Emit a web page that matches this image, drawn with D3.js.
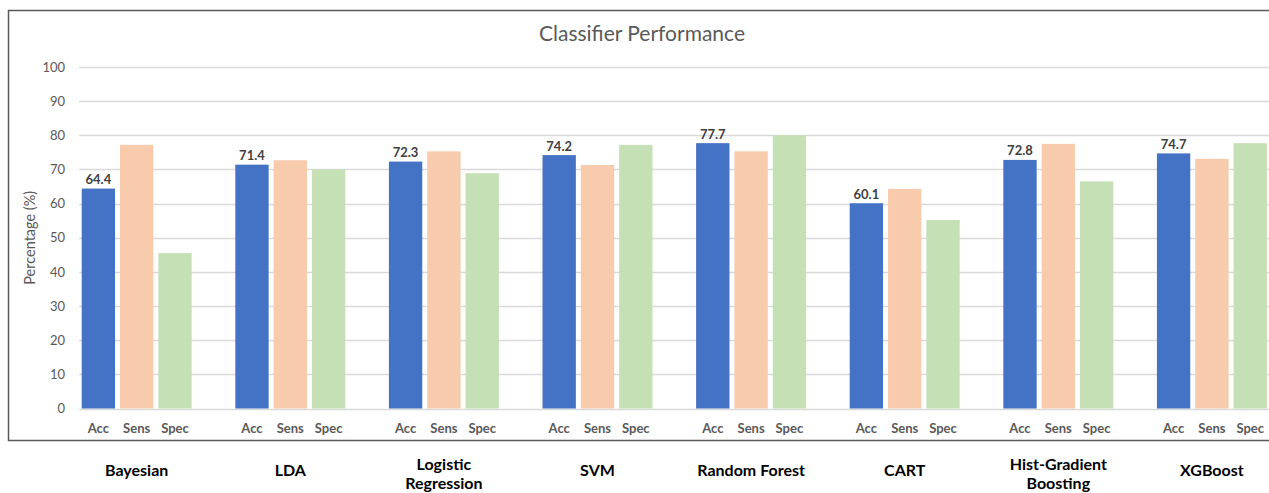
<!DOCTYPE html>
<html>
<head>
<meta charset="utf-8">
<script src="https://cdn.jsdelivr.net/npm/d3@7"></script>
<style>
  html, body { margin: 0; padding: 0; background: #fff; }
  svg { display: block; }
  text { font-family: Lato, "Open Sans", sans-serif; }
</style>
</head>
<body>
<svg id="chart" width="1269" height="493"></svg>
<script>
// Classifier metrics (%)
const classifiers = ["Bayesian", "LDA", "Logistic Regression", "SVM", "Random Forest", "CART", "Hist-Gradient Boosting", "XGBoost"];
const classifierLines = [["Bayesian"], ["LDA"], ["Logistic", "Regression"], ["SVM"], ["Random Forest"], ["CART"], ["Hist-Gradient", "Boosting"], ["XGBoost"]];
const metrics = ["Acc", "Sens", "Spec"];
const accuracy    = [64.4, 71.4, 72.3, 74.2, 77.7, 60.1, 72.8, 74.7];
const sensitivity = [77.2, 72.7, 75.3, 71.3, 75.3, 64.3, 77.5, 73.1];
const specificity = [45.5, 70.0, 68.9, 77.2, 80.0, 55.2, 66.5, 77.7];
const yTicks = [0, 10, 20, 30, 40, 50, 60, 70, 80, 90, 100];
const metricColors = ["#4472C4", "#F8CBAD", "#C5E0B4"];

const series = [accuracy, sensitivity, specificity];
const rows = classifiers.map((c, i) => ({
  name: c,
  lines: classifierLines[i],
  values: metrics.map((m, j) => ({ metric: m, value: series[j][i] }))
}));

const svg = d3.select("#chart");

// chart frame (open on the right)
svg.append("path")
  .attr("d", "M1269,10.5 H8.5 V440.5 H1269")
  .attr("fill", "none")
  .attr("stroke", "#595959")
  .attr("stroke-width", 1.5);

const plotLeft = 79, plotRight = 1269;
const y = d3.scaleLinear().domain([0, 100]).range([408.5, 67]);

const x0 = d3.scaleBand()
  .domain(classifiers)
  .range([81.7, 1266.9])
  .paddingInner(0.284)
  .paddingOuter(0)
  .align(0);

const x1 = d3.scaleBand()
  .domain(metrics)
  .range([0, x0.bandwidth()])
  .paddingInner(0.13)
  .paddingOuter(0);

const color = d3.scaleOrdinal().domain(metrics).range(metricColors);

// title
svg.append("text")
  .attr("x", 642)
  .attr("y", 41)
  .attr("text-anchor", "middle")
  .attr("fill", "#595959")
  .style("font-size", "21px")
  .text("Classifier Performance");

// gridlines + y ticks
const yAxis = d3.axisLeft(y).tickValues(yTicks).tickSize(0).tickPadding(14);
const gy = svg.append("g").attr("transform", `translate(${plotLeft},0)`).call(yAxis);
gy.select(".domain").remove();
gy.selectAll(".tick text").attr("fill", "#595959").style("font-size", "13px");

svg.append("g").selectAll("line")
  .data(yTicks)
  .join("line")
  .attr("x1", plotLeft).attr("x2", plotRight)
  .attr("y1", d => Math.round(y(d)) + 0.5).attr("y2", d => Math.round(y(d)) + 0.5)
  .attr("stroke", "#d9d9d9")
  .attr("stroke-width", 1.5);

// y axis title
svg.append("text")
  .attr("transform", `translate(35,${(y(0) + y(100)) / 2}) rotate(-90)`)
  .attr("text-anchor", "middle")
  .attr("fill", "#595959")
  .style("font-size", "14.5px")
  .text("Percentage (%)");

// bars
const groups = svg.append("g").selectAll("g")
  .data(rows)
  .join("g")
  .attr("transform", d => `translate(${x0(d.name)},0)`);

groups.selectAll("rect")
  .data(d => d.values)
  .join("rect")
  .attr("x", d => x1(d.metric))
  .attr("y", d => y(d.value))
  .attr("width", x1.bandwidth())
  .attr("height", d => y(0) - y(d.value))
  .attr("fill", d => color(d.metric));

// accuracy value labels
groups.append("text")
  .attr("x", x1("Acc") + x1.bandwidth() / 2)
  .attr("y", d => y(d.values[0].value) - 4.5)
  .attr("text-anchor", "middle")
  .attr("fill", "#404040")
  .style("font-size", "13px")
  .style("font-weight", "bold")
  .text(d => d.values[0].value.toFixed(1));

// metric labels under bars
groups.selectAll("text.metric")
  .data(metrics)
  .join("text")
  .attr("class", "metric")
  .attr("x", d => x1(d) + x1.bandwidth() / 2)
  .attr("y", 432.5)
  .attr("text-anchor", "middle")
  .attr("fill", "#595959")
  .style("font-size", "13px")
  .style("font-weight", "bold")
  .text(d => d);

// classifier names
groups.append("text")
  .attr("x", x0.bandwidth() / 2)
  .attr("y", d => d.lines.length > 1 ? 470 : 475.5)
  .attr("text-anchor", "middle")
  .attr("fill", "#000")
  .style("font-size", "16px")
  .style("font-weight", "bold")
  .selectAll("tspan")
  .data(d => d.lines)
  .join("tspan")
  .attr("x", x0.bandwidth() / 2)
  .attr("dy", (d, i) => i === 0 ? 0 : 19)
  .text(d => d);
</script>
</body>
</html>
